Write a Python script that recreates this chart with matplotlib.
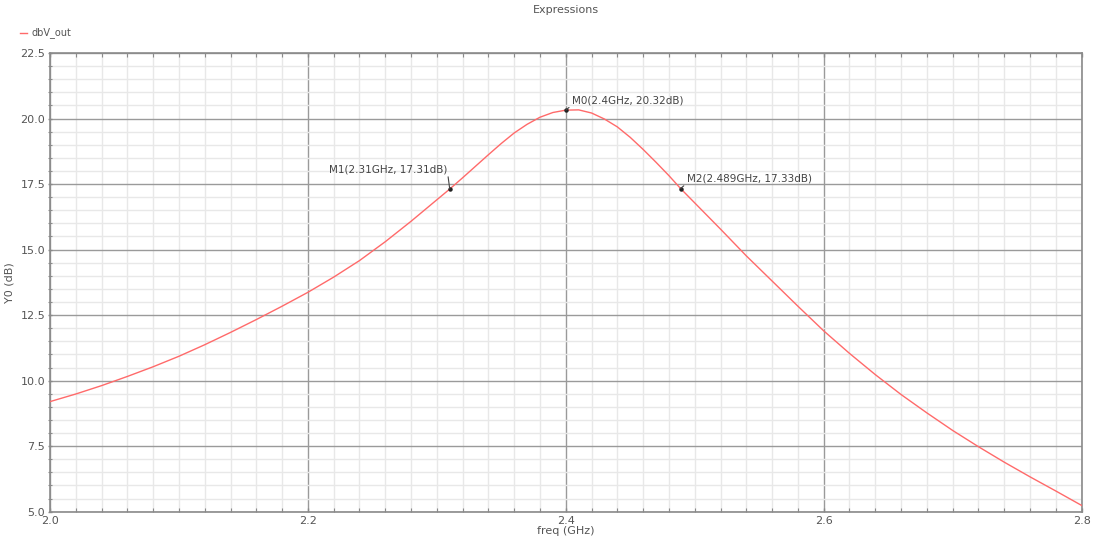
import matplotlib
matplotlib.use("Agg")
import matplotlib.pyplot as plt
from matplotlib.ticker import MultipleLocator, FormatStrFormatter

# Data
freq_ghz = [2.00, 2.02, 2.04, 2.06, 2.08, 2.10, 2.12, 2.14, 2.16, 2.18,
            2.20, 2.22, 2.24, 2.26, 2.28, 2.29, 2.30, 2.31, 2.32, 2.33,
            2.34, 2.35, 2.36, 2.37, 2.38, 2.39, 2.40, 2.41, 2.42, 2.43,
            2.44, 2.45, 2.46, 2.47, 2.48, 2.489, 2.50, 2.52, 2.54, 2.56,
            2.58, 2.60, 2.62, 2.64, 2.66, 2.68, 2.70, 2.72, 2.74, 2.76,
            2.78, 2.80]
dbv_out = [9.20, 9.49, 9.81, 10.16, 10.53, 10.93, 11.37, 11.84, 12.33, 12.84,
           13.37, 13.95, 14.58, 15.30, 16.08, 16.49, 16.90, 17.31, 17.74, 18.18,
           18.62, 19.05, 19.45, 19.78, 20.05, 20.23, 20.32, 20.33, 20.21, 19.98,
           19.68, 19.28, 18.82, 18.33, 17.82, 17.33, 16.78, 15.78, 14.76, 13.80,
           12.84, 11.90, 11.04, 10.23, 9.47, 8.77, 8.10, 7.48, 6.89, 6.33,
           5.79, 5.24]

marker_names = ["M0", "M1", "M2"]
marker_freq = [2.4, 2.31, 2.489]
marker_val = [20.32, 17.31, 17.33]
marker_freq_txt = ["2.4", "2.31", "2.489"]

series_name = "dbV_out"
title = "Expressions"
xlabel = "freq (GHz)"
ylabel = "Y0 (dB)"

line_color = "#ff6a6a"
text_color = "#555555"

fig = plt.figure(figsize=(10.93, 5.46), dpi=100)
ax = fig.add_axes([50 / 1093, 1 - 511.7 / 546, (1081.6 - 50) / 1093, (511.7 - 53) / 546])

ax.plot(freq_ghz, dbv_out, color=line_color, linewidth=1.0, zorder=3,
        solid_joinstyle="round", antialiased=True)

ax.set_xlim(2.0, 2.8)
ax.set_ylim(5.0, 22.5)
ax.xaxis.set_major_locator(MultipleLocator(0.2))
ax.xaxis.set_minor_locator(MultipleLocator(0.02))
ax.yaxis.set_major_locator(MultipleLocator(2.5))
ax.yaxis.set_minor_locator(MultipleLocator(0.5))
ax.xaxis.set_major_formatter(FormatStrFormatter("%.1f"))
ax.yaxis.set_major_formatter(FormatStrFormatter("%.1f"))

ax.grid(which="major", color="#9a9a9a", linewidth=1.0, zorder=1)
ax.grid(which="minor", color="#e8e8e8", linewidth=1.0, zorder=0)
ax.set_axisbelow(True)

for s in ax.spines.values():
    s.set_color("#8a8a8a")
    s.set_linewidth(1.2)

ax.tick_params(which="both", direction="in", colors="#8a8a8a",
               labelcolor=text_color, labelsize=8, top=True, right=False)
ax.tick_params(which="major", length=3, width=1)
ax.tick_params(which="minor", length=3, width=0.8)
ax.tick_params(axis="y", which="both", direction="inout", length=3)
ax.tick_params(axis="x", pad=3)
ax.tick_params(axis="y", pad=2)

ax.set_xlabel(xlabel, fontsize=8, color=text_color, labelpad=0)
ax.set_ylabel(ylabel, fontsize=8, color=text_color, labelpad=4)

fig.text(566 / 1093, 1 - 10 / 546, title, fontsize=8, color=text_color,
         ha="center", va="center")

# legend-like entry
fig.lines.append(matplotlib.lines.Line2D([20 / 1093, 27 / 1093], [1 - 33 / 546, 1 - 33 / 546],
                                         color=line_color, linewidth=1.0,
                                         transform=fig.transFigure))
fig.text(31 / 1093, 1 - 33 / 546, series_name, fontsize=7, color=text_color,
         ha="left", va="center")

# markers
offsets = {"M0": (6, 10, "left", (0, 0)),
           "M1": (-2, 20, "right", (1, 0)),
           "M2": (6, 10, "left", (0, 0))}
for name, f, v, ftxt in zip(marker_names, marker_freq, marker_val, marker_freq_txt):
    dx, dy, ha, rp = offsets[name]
    ax.plot([f], [v], marker="o", markersize=2.2, color="#222222", zorder=4)
    ax.annotate(f"{name}({ftxt}GHz, {v:.2f}dB)", xy=(f, v),
                xytext=(dx, dy), textcoords="offset pixels",
                ha=ha, va="center", fontsize=7.5, color="#444444",
                arrowprops=dict(arrowstyle="-", color="#444444", lw=0.8,
                                shrinkA=0, shrinkB=0, relpos=rp),
                zorder=5)

fig.savefig("out.png", dpi=100, facecolor="white")
